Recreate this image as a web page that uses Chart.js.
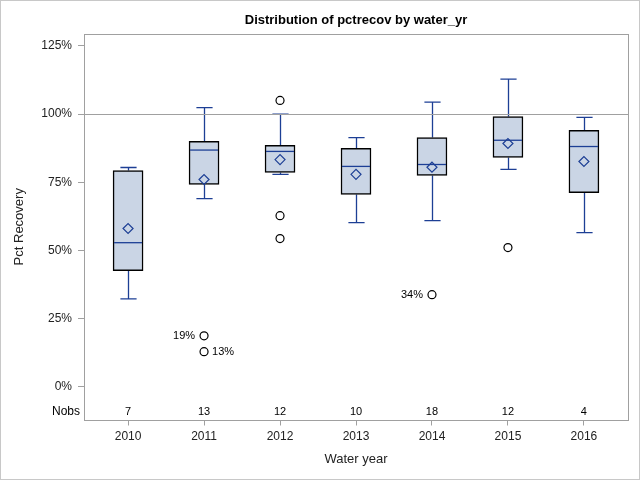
<!DOCTYPE html>
<html>
<head>
<meta charset="utf-8">
<script src="https://cdn.jsdelivr.net/npm/chart.js@4.4.1/dist/chart.umd.min.js"></script>
<style>
  html, body { margin: 0; padding: 0; background: #fff; }
  #wrap { width: 640px; height: 480px; }
</style>
</head>
<body>
<div id="wrap"><canvas id="boxChart" width="640" height="480"></canvas></div>
<script>
// values (percent recovery)
const years = ['2010', '2011', '2012', '2013', '2014', '2015', '2016'];
const q1 = [42.5, 74.2, 78.6, 70.5, 77.5, 84.1, 71.2];
const q3 = [79.3, 90.0, 88.5, 87.4, 91.4, 99.1, 94.0];
const medians = [52.8, 86.8, 86.3, 80.8, 81.5, 90.4, 88.1];
const means = [58.0, 76.0, 83.3, 77.9, 80.5, 89.2, 82.6];
const whiskLo = [32.2, 69.0, 77.9, 60.2, 60.9, 79.7, 56.5];
const whiskHi = [80.4, 102.4, 100.0, 91.4, 104.4, 112.8, 98.8];
const outlierYear = [1, 1, 2, 2, 2, 4, 5];
const outlierVal = [18.6, 12.8, 105.0, 62.7, 54.3, 33.7, 51.0];
const outlierLabel = ['19%', '13%', '', '', '', '34%', ''];
const outlierSide = ['left', 'right', '', '', '', 'left', ''];
const nobs = [7, 13, 12, 10, 18, 12, 4];
const yTicks = [0, 25, 50, 75, 100, 125];
const refLine = 100;
const chartTitle = 'Distribution of pctrecov by water_yr';

const lineBlue = '#1d3f95';
const fillBlue = '#cad5e5';
const axisGray = '#a0a0a0';
const FONT = '"Liberation Sans", Arial, sans-serif';

const boxExtras = {
  id: 'boxExtras',
  beforeDatasetsDraw(chart) {
    const { ctx, scales: { x, y } } = chart;
    const meta = chart.getDatasetMeta(0);
    ctx.save();
    ctx.strokeStyle = lineBlue;
    ctx.lineWidth = 1.3;
    years.forEach((yr, i) => {
      const px = Math.round(x.getPixelForValue(i)) + 0.5;
      const half = meta.data[i].width * 0.27;
      const yHi = y.getPixelForValue(whiskHi[i]);
      const yLo = y.getPixelForValue(whiskLo[i]);
      ctx.beginPath();
      ctx.moveTo(px, y.getPixelForValue(q3[i]));
      ctx.lineTo(px, yHi);
      ctx.moveTo(px - half, yHi);
      ctx.lineTo(px + half, yHi);
      ctx.moveTo(px, y.getPixelForValue(q1[i]));
      ctx.lineTo(px, yLo);
      ctx.moveTo(px - half, yLo);
      ctx.lineTo(px + half, yLo);
      ctx.stroke();
    });
    ctx.restore();
  },
  afterDatasetsDraw(chart) {
    const { ctx, chartArea: a, scales: { x, y } } = chart;
    const meta = chart.getDatasetMeta(0);
    ctx.save();
    // reference line
    ctx.strokeStyle = axisGray;
    ctx.lineWidth = 1;
    const ry = Math.round(y.getPixelForValue(refLine)) + 0.5;
    ctx.beginPath();
    ctx.moveTo(a.left, ry);
    ctx.lineTo(a.right, ry);
    ctx.stroke();
    // outlier labels
    ctx.fillStyle = '#000';
    ctx.font = '11px ' + FONT;
    ctx.textBaseline = 'middle';
    outlierVal.forEach((v, i) => {
      if (!outlierLabel[i]) return;
      const px = x.getPixelForValue(outlierYear[i]);
      const py = y.getPixelForValue(v);
      if (outlierSide[i] === 'left') {
        ctx.textAlign = 'right';
        ctx.fillText(outlierLabel[i], px - 9, py);
      } else {
        ctx.textAlign = 'left';
        ctx.fillText(outlierLabel[i], px + 8, py);
      }
    });
    // Nobs row
    ctx.textAlign = 'center';
    ctx.font = '11px ' + FONT;
    nobs.forEach((n, i) => {
      ctx.fillText(String(n), x.getPixelForValue(i), a.bottom - 8);
    });
    ctx.textAlign = 'right';
    ctx.font = '12px ' + FONT;
    ctx.fillText('Nobs', a.left - 4, a.bottom - 8);
    // plot frame
    ctx.strokeStyle = axisGray;
    ctx.strokeRect(Math.round(a.left) + 0.5, Math.round(a.top) + 0.5,
      Math.round(a.right - a.left), Math.round(a.bottom - a.top));
    // title
    ctx.textAlign = 'center';
    ctx.font = 'bold 13px ' + FONT;
    ctx.fillText(chartTitle, (a.left + a.right) / 2, 20);
    // outer border
    ctx.strokeStyle = '#c8c8c8';
    ctx.strokeRect(0.5, 0.5, chart.width - 1, chart.height - 1);
    ctx.restore();
  }
};

// medians drawn right after the boxes, before the mean diamonds
const medianLines = {
  id: 'medianLines',
  afterDatasetDraw(chart, args) {
    if (args.index !== 0) return;
    const { ctx, scales: { y } } = chart;
    const meta = chart.getDatasetMeta(0);
    ctx.save();
    ctx.strokeStyle = lineBlue;
    ctx.lineWidth = 1.3;
    years.forEach((yr, i) => {
      const bar = meta.data[i];
      const py = y.getPixelForValue(medians[i]);
      ctx.beginPath();
      ctx.moveTo(bar.x - bar.width / 2 + 1, py);
      ctx.lineTo(bar.x + bar.width / 2 - 1, py);
      ctx.stroke();
    });
    ctx.restore();
  }
};

new Chart(document.getElementById('boxChart'), {
  type: 'bar',
  data: {
    datasets: [
      {
        type: 'bar',
        order: 3,
        data: years.map((yr, i) => ({ x: i, y: [q1[i], q3[i]] })),
        backgroundColor: fillBlue,
        borderColor: '#000',
        borderWidth: 1.5,
        borderSkipped: false,
        barThickness: 30
      },
      {
        type: 'scatter',
        order: 2,
        data: years.map((yr, i) => ({ x: i, y: means[i] })),
        pointStyle: 'rectRot',
        radius: 5,
        backgroundColor: 'rgba(0,0,0,0)',
        borderColor: lineBlue,
        borderWidth: 1.2
      },
      {
        type: 'scatter',
        order: 1,
        data: outlierVal.map((v, i) => ({ x: outlierYear[i], y: v })),
        pointStyle: 'circle',
        radius: 4,
        backgroundColor: '#fff',
        borderColor: '#000',
        borderWidth: 1.2
      }
    ]
  },
  options: {
    responsive: false,
    animation: false,
    layout: { padding: { top: 34, right: 12, left: 0, bottom: 0 } },
    plugins: {
      legend: { display: false },
      tooltip: { enabled: false },
      title: { display: false }
    },
    scales: {
      x: {
        type: 'linear',
        min: -0.58,
        max: 6.58,
        offset: false,
        afterFit: s => { s.height = 60.5; },
        afterBuildTicks: s => { s.ticks = years.map((yr, i) => ({ value: i })); },
        grid: { offset: false, drawOnChartArea: false, tickLength: 6, color: axisGray },
        border: { display: false },
        ticks: {
          callback: v => years[v],
          padding: 4,
          color: '#222',
          font: { family: FONT, size: 12 },
          maxRotation: 0
        },
        title: {
          display: true,
          text: 'Water year',
          color: '#222',
          font: { family: FONT, size: 13 },
          padding: { top: 4, bottom: 13 }
        }
      },
      y: {
        min: -12.1,
        max: 129.4,
        afterFit: s => { s.width = 84; },
        afterBuildTicks: s => { s.ticks = yTicks.map(v => ({ value: v })); },
        grid: { drawOnChartArea: false, tickLength: 6, color: axisGray },
        border: { display: false },
        ticks: {
          callback: v => v + '%',
          padding: 6,
          color: '#222',
          font: { family: FONT, size: 12 }
        },
        title: {
          display: true,
          text: 'Pct Recovery',
          color: '#222',
          font: { family: FONT, size: 13 },
          padding: { top: 12, bottom: 4 }
        }
      }
    }
  },
  plugins: [medianLines, boxExtras]
});
</script>
</body>
</html>
